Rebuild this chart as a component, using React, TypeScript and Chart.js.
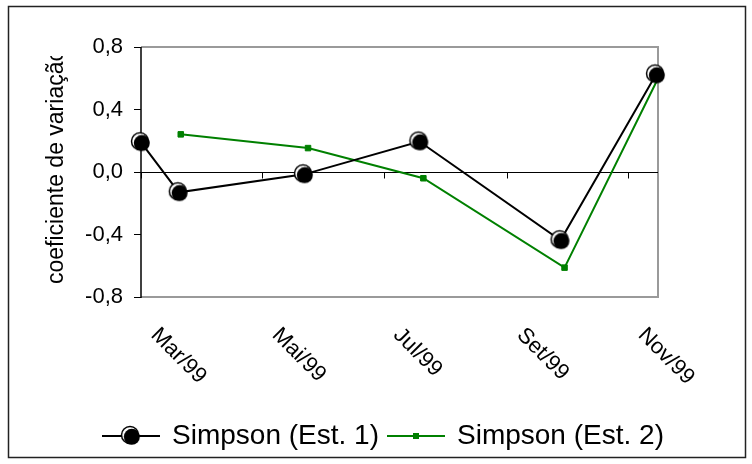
import React, { useEffect, useRef } from "react";
import { Chart, registerables } from "chart.js";

Chart.register(...registerables);

// ---- data ----
const axisStartDate = "1999-03-01";
const axisEndDate = "1999-11-16";

const est1Dates = ["1999-03-01", "1999-03-20", "1999-05-22", "1999-07-19", "1999-09-28", "1999-11-15"];
const est1Values = [0.19, -0.13, -0.015, 0.195, -0.437, 0.624];

const est2Dates = ["1999-03-21", "1999-05-24", "1999-07-21", "1999-09-30", "1999-11-17"];
const est2Values = [0.241, 0.153, -0.04, -0.612, 0.624];

const xTickDates = ["1999-03-01", "1999-05-01", "1999-07-01", "1999-09-01", "1999-11-01"];
const xTickLabels = ["Mar/99", "Mai/99", "Jul/99", "Set/99", "Nov/99"];
const yTicks = [-0.8, -0.4, 0, 0.4, 0.8];

const seriesNames = ["Simpson (Est. 1)", "Simpson (Est. 2)"];
const yTitle = "coeficiente de variação";

const FONT = "'Liberation Sans', Arial, sans-serif";

function toUTC(d: string): number {
  const [y, m, dd] = d.split("-").map(Number);
  return Date.UTC(y, m - 1, dd);
}
function dayOffset(d: string): number {
  return Math.round((toUTC(d) - toUTC(axisStartDate)) / 86400000);
}
function fmt(v: number): string {
  const n = Math.abs(v) < 1e-9 ? 0 : v;
  return n.toFixed(1).replace(".", ",");
}

function makeBlackMarker(): HTMLCanvasElement {
  const c = document.createElement("canvas");
  c.width = 24;
  c.height = 24;
  const g = c.getContext("2d")!;
  g.fillStyle = "#fff";
  g.strokeStyle = "#000";
  g.lineWidth = 1.5;
  g.beginPath();
  g.arc(11, 11, 8.5, 0, Math.PI * 2);
  g.fill();
  g.stroke();
  g.fillStyle = "#000";
  g.beginPath();
  g.arc(12.8, 12.8, 8, 0, Math.PI * 2);
  g.fill();
  return c;
}

function makeLegendSymbol(color: string, marker: "circle" | "square"): HTMLCanvasElement {
  const c = document.createElement("canvas");
  c.width = 58;
  c.height = 24;
  const g = c.getContext("2d")!;
  g.strokeStyle = color;
  g.lineWidth = 2;
  g.beginPath();
  g.moveTo(0, 12);
  g.lineTo(58, 12);
  g.stroke();
  if (marker === "circle") {
    const m = makeBlackMarker();
    g.drawImage(m, 29 - 12, 0);
  } else {
    g.fillStyle = color;
    g.fillRect(26, 9, 6, 6);
  }
  return c;
}

const decorPlugin = {
  id: "decor",
  beforeDatasetsDraw(chart: any) {
    const { ctx, chartArea } = chart;
    const { left, right, top, bottom } = chartArea;
    const xs = chart.scales.x;
    const ys = chart.scales.y;
    ctx.save();
    // plot border (gray)
    ctx.strokeStyle = "#9a9a9a";
    ctx.lineWidth = 2;
    ctx.beginPath();
    ctx.moveTo(left, top);
    ctx.lineTo(right, top);
    ctx.lineTo(right, bottom);
    ctx.lineTo(left, bottom);
    ctx.stroke();
    // zero line with tick marks
    const y0 = Math.round(ys.getPixelForValue(0)) + 0.5;
    ctx.strokeStyle = "#000";
    ctx.lineWidth = 1;
    ctx.beginPath();
    ctx.moveTo(left, y0);
    ctx.lineTo(right, y0);
    xTickDates.forEach((d) => {
      const x = Math.round(xs.getPixelForValue(dayOffset(d))) + 0.5;
      ctx.moveTo(x, y0);
      ctx.lineTo(x, y0 + 6);
    });
    ctx.stroke();
    // y axis line
    ctx.lineWidth = 1.5;
    ctx.beginPath();
    ctx.moveTo(left, top);
    ctx.lineTo(left, bottom + 1);
    ctx.stroke();
    ctx.restore();
  },
  afterDraw(chart: any) {
    const { ctx, chartArea } = chart;
    const xs = chart.scales.x;
    ctx.save();
    // rotated x labels
    ctx.fillStyle = "#000";
    ctx.font = `22px ${FONT}`;
    ctx.textAlign = "left";
    ctx.textBaseline = "alphabetic";
    xTickDates.forEach((d, i) => {
      const x = xs.getPixelForValue(dayOffset(d));
      ctx.save();
      ctx.translate(x + 9, chartArea.bottom + 39);
      ctx.rotate(Math.PI / 4);
      ctx.fillText(xTickLabels[i], 0, 0);
      ctx.restore();
    });
    // y title (clipped at top)
    ctx.save();
    ctx.beginPath();
    ctx.rect(0, 56, 140, 400);
    ctx.clip();
    ctx.translate(63, 284);
    ctx.rotate(-Math.PI / 2);
    ctx.font = `23px ${FONT}`;
    ctx.fillText(yTitle, 0, 0);
    ctx.restore();
    // outer border
    ctx.strokeStyle = "#222";
    ctx.lineWidth = 1.5;
    ctx.strokeRect(8.5, 6.5, 737, 451);
    ctx.restore();
  },
};

export default function App() {
  const ref = useRef<HTMLCanvasElement | null>(null);

  useEffect(() => {
    if (!ref.current) return;
    const blackMarker = makeBlackMarker();
    const legend1 = makeLegendSymbol("#000", "circle");
    const legend2 = makeLegendSymbol("#008000", "square");

    const chart = new Chart(ref.current, {
      type: "line",
      data: {
        datasets: [
          {
            label: seriesNames[0],
            data: est1Dates.map((d, i) => ({ x: dayOffset(d), y: est1Values[i] })),
            borderColor: "#000",
            backgroundColor: "#000",
            borderWidth: 2,
            pointStyle: blackMarker as any,
            pointRadius: 9,
            clip: false as any,
            yAxisID: "y",
            xAxisID: "x",
          },
          {
            label: seriesNames[1],
            data: est2Dates.map((d, i) => ({ x: dayOffset(d), y: est2Values[i] })),
            borderColor: "#008000",
            backgroundColor: "#008000",
            borderWidth: 2,
            pointStyle: "rect",
            pointRadius: 3.9,
            pointBorderWidth: 1,
            clip: false as any,
            yAxisID: "y",
            xAxisID: "x",
          },
        ],
      },
      options: {
        animation: false,
        responsive: false,
        events: [],
        layout: { padding: { left: 16, top: 47, right: 0, bottom: 4 } },
        plugins: {
          tooltip: { enabled: false },
          legend: {
            position: "bottom",
            labels: {
              usePointStyle: true,
              pointStyleWidth: 54,
              boxHeight: 20,
              padding: 10,
              color: "#000",
              font: { family: FONT, size: 28 },
              generateLabels: () => [
                { text: seriesNames[0], pointStyle: legend1 as any, fillStyle: "#000", strokeStyle: "#000", lineWidth: 0, hidden: false, datasetIndex: 0, fontColor: "#000" } as any,
                { text: seriesNames[1], pointStyle: legend2 as any, fillStyle: "#008000", strokeStyle: "#008000", lineWidth: 0, hidden: false, datasetIndex: 1, fontColor: "#000" } as any,
              ],
            },
          },
        },
        scales: {
          x: {
            type: "linear",
            position: "bottom",
            min: 0,
            max: dayOffset(axisEndDate),
            afterBuildTicks: (s: any) => {
              s.ticks = xTickDates.map((d) => ({ value: dayOffset(d) }));
            },
            afterFit: (s: any) => {
              s.height = 115;
            },
            ticks: { display: false },
            grid: { display: false },
            border: { display: false },
          },
          y: {
            type: "linear",
            position: "left",
            min: -0.8,
            max: 0.8,
            afterBuildTicks: (s: any) => {
              s.ticks = yTicks.map((v) => ({ value: v }));
            },
            afterFit: (s: any) => {
              s.width = 125;
            },
            ticks: {
              callback: (v: any) => fmt(Number(v)),
              color: "#000",
              font: { family: FONT, size: 22 },
              padding: 11,
            },
            grid: { drawOnChartArea: false, drawTicks: true, tickLength: 7, color: "#000", lineWidth: 1 },
            border: { display: false },
          },
          yR: {
            type: "linear",
            position: "right",
            display: true,
            afterFit: (s: any) => {
              s.width = 94;
            },
            ticks: { display: false },
            grid: { display: false },
            border: { display: false },
          },
        },
      } as any,
      plugins: [decorPlugin],
    });
    return () => chart.destroy();
  }, []);

  return (
    <div style={{ position: "absolute", left: 0, top: 0, width: 752, height: 464, background: "#fff" }}>
      <canvas ref={ref} width={752} height={464} style={{ display: "block", width: 752, height: 464 }} />
    </div>
  );
}
